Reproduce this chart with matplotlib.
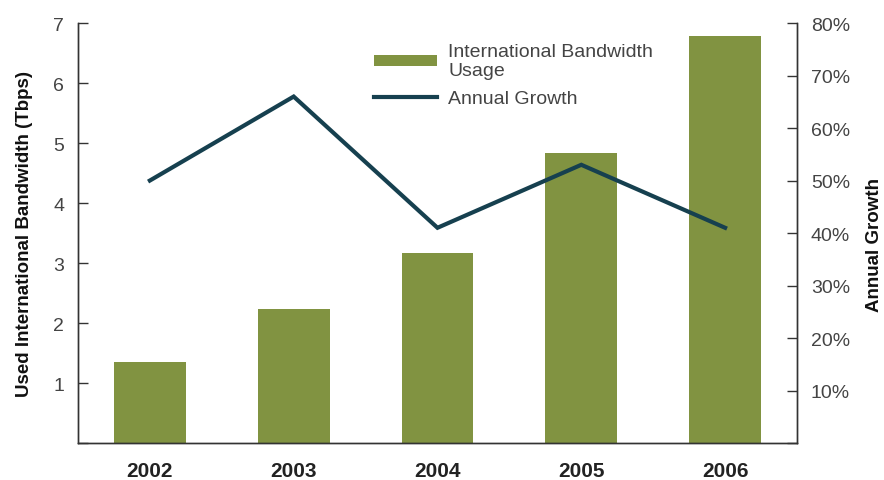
import matplotlib
matplotlib.use("Agg")
import matplotlib.pyplot as plt
from matplotlib.lines import Line2D
from matplotlib.patches import Patch

years = ["2002", "2003", "2004", "2005", "2006"]
bandwidth = [1.35, 2.24, 3.16, 4.83, 6.79]   # Tbps
growth = [50, 66, 41, 53, 41]                # percent

bar_color = "#819341"
line_color = "#16404f"
text_color = "#444444"

plt.rcParams['font.family'] = ['Liberation Sans', 'DejaVu Sans']

fig = plt.figure(figsize=(8.84, 4.81), dpi=100)
ax = fig.add_axes([0.0882, 0.0769, 0.8134, 0.8731])
ax2 = ax.twinx()

x = list(range(len(years)))
ax.bar(x, bandwidth, width=0.5, color=bar_color, zorder=2)
ax2.plot(x, growth, color=line_color, lw=3.0, solid_joinstyle='miter', zorder=3)

ax.set_xlim(-0.5, 4.5)
ax.set_ylim(0, 7)
ax2.set_ylim(0, 80)

ax.set_yticks(range(0, 8))
ax.set_yticklabels([""] + [str(i) for i in range(1, 8)])
ax2.set_yticks(range(0, 90, 10))
ax2.set_yticklabels([""] + [f"{v}%" for v in range(10, 90, 10)])

ax.set_xticks(x)
ax.set_xticklabels(years, fontsize=15, fontweight='bold', color="#222222")
ax.tick_params(axis='x', length=0, pad=13)
ax.tick_params(axis='y', direction='in', length=7, width=1, colors="#333333",
               labelcolor=text_color, labelsize=14, pad=10)
ax2.tick_params(axis='y', direction='in', length=7, width=1, colors="#333333",
                labelcolor=text_color, labelsize=14, pad=10)

for a in (ax, ax2):
    a.spines['top'].set_visible(False)
    for s in ('left', 'right', 'bottom'):
        a.spines[s].set_color("#333333")
        a.spines[s].set_linewidth(1)

ax.set_ylabel("Used International Bandwidth (Tbps)", fontsize=13.5,
              fontweight='bold', color="#111111")
ax.yaxis.set_label_coords(-0.062, 0.5)
fig.text(0.989, 0.49, "Annual Growth", rotation=90, fontsize=13.5,
         fontweight='bold', color="#111111", ha='center', va='center')

handles = [Patch(facecolor=bar_color), Line2D([], [], color=line_color, lw=3.0)]
labels = ["International Bandwidth\nUsage", "Annual Growth"]
ax.legend(handles, labels, loc='upper left', bbox_to_anchor=(0.388, 0.995),
          frameon=False, fontsize=14, handlelength=3.2, handleheight=0.5,
          handletextpad=0.6, labelspacing=0.55, labelcolor=text_color)

# line drawn above the bars
ax2.set_zorder(ax.get_zorder() + 1)
ax2.patch.set_visible(False)

fig.savefig("out.png", dpi=100)
